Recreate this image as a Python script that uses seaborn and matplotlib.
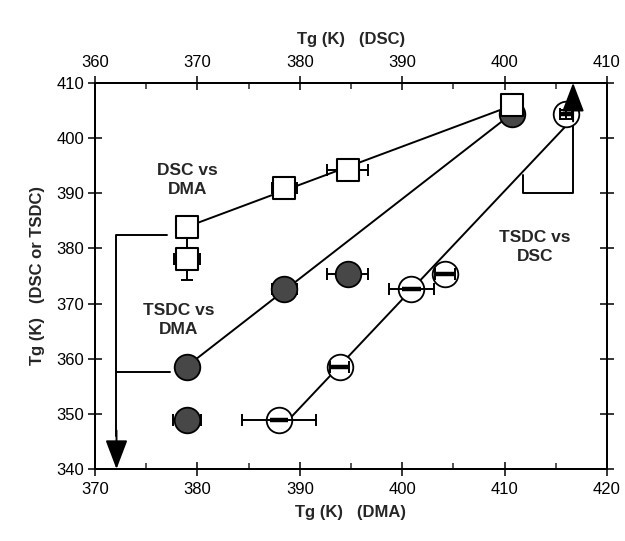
import numpy as np
import pandas as pd
import matplotlib
matplotlib.use("Agg")
import matplotlib.pyplot as plt
import seaborn as sns

# ---- data ----
sample = ["A", "B", "C", "D", "E"]
tg_dma = [379.0, 379.0, 388.5, 394.7, 410.7]
tg_dsc = [378.0, 383.9, 390.9, 394.2, 406.0]
tg_tsdc = [348.8, 358.5, 372.6, 375.3, 404.3]

# error bars
dsc_dma_xerr = [1.3, 0.0, 1.2, 2.0, 0.0]
dsc_dma_yerr_lo = [3.8, 0.0, 0.0, 0.0, 0.0]
dsc_dma_yerr_hi = [4.5, 0.0, 0.0, 0.0, 0.0]
tsdc_dma_xerr = [1.4, 0.0, 1.2, 2.0, 0.0]
tsdc_dsc_xerr = [3.6, 0.9, 2.2, 1.0, 0.6]
tsdc_dsc_yerr = [0.0, 0.0, 0.0, 0.0, 0.8]

# points used for the straight fit lines
fit_dsc_dma = [1, 2, 3, 4]
fit_tsdc_dma = [1, 2, 4]
fit_tsdc_dsc = [0, 1, 2, 3, 4]

x_ticks_dma = [370, 380, 390, 400, 410, 420]
x_ticks_dsc = [360, 370, 380, 390, 400, 410]
y_ticks = [340, 350, 360, 370, 380, 390, 400, 410]

df = pd.DataFrame({"sample": sample, "DMA": tg_dma, "DSC": tg_dsc, "TSDC": tg_tsdc})

sns.set_style("ticks")
plt.rcParams["font.family"] = ["Liberation Sans", "DejaVu Sans"]

fig = plt.figure(figsize=(6.25, 5.41), dpi=100)
ax = fig.add_axes([0.152, 0.133, 0.819, 0.714])
ax.set_xlim(370, 420)
ax.set_ylim(340, 410)
ax2 = ax.twiny()
ax2.set_xlim(360, 410)

lw = 1.4

def fit_line(axis, x, y, idx):
    xs = np.array(x)[idx]
    ys = np.array(y)[idx]
    k, b = np.polyfit(xs, ys, 1)
    xx = np.array([xs.min(), xs.max()])
    axis.plot(xx, k * xx + b, color="black", lw=lw, zorder=2)

fit_line(ax, tg_dma, tg_dsc, fit_dsc_dma)
fit_line(ax, tg_dma, tg_tsdc, fit_tsdc_dma)
fit_line(ax2, tg_dsc, tg_tsdc, fit_tsdc_dsc)

ekw = dict(fmt="none", ecolor="black", elinewidth=lw, capsize=4.5, capthick=lw)
ax.errorbar(df["DMA"], df["DSC"], xerr=dsc_dma_xerr,
            yerr=[dsc_dma_yerr_lo, dsc_dma_yerr_hi], zorder=1, **ekw)
ax.errorbar(df["DMA"], df["TSDC"], xerr=tsdc_dma_xerr, zorder=1, **ekw)

sns.scatterplot(data=df, x="DMA", y="TSDC", ax=ax, marker="o", s=340,
                color="#474747", edgecolor="black", linewidth=1.3, zorder=3)
sns.scatterplot(data=df, x="DMA", y="DSC", ax=ax, marker="s", s=230,
                color="white", edgecolor="black", linewidth=1.5, zorder=4)
sns.scatterplot(data=df, x="DSC", y="TSDC", ax=ax2, marker="o", s=340,
                color="white", edgecolor="black", linewidth=1.3, zorder=3)
ax2.errorbar(df["DSC"], df["TSDC"], xerr=tsdc_dsc_xerr, yerr=tsdc_dsc_yerr,
             zorder=4, **ekw)
# thicker central part of the TSDC-vs-DSC bars (inside the circles)
inner_xerr = np.minimum(np.array(tsdc_dsc_xerr), 0.9)
ax2.errorbar(df["DSC"], df["TSDC"], xerr=inner_xerr, fmt="none", ecolor="black",
             elinewidth=3.2, capsize=0, zorder=4)

# ---- bracket arrows (annotation guides) ----
ak = dict(arrowstyle="-|>,head_length=1.0,head_width=0.38", color="black",
          lw=lw, shrinkA=0, shrinkB=0, mutation_scale=18)
ax.plot([377.0, 372.1, 372.1], [382.4, 382.4, 346], color="black", lw=lw, zorder=2)
ax.plot([377.3, 372.1], [357.5, 357.5], color="black", lw=lw, zorder=2)
ax.annotate("", xy=(372.1, 340), xytext=(372.1, 347), arrowprops=ak, zorder=5)
ax2.plot([401.8, 401.8, 406.7, 406.7], [393.3, 390.0, 390.0, 404], color="black",
         lw=lw, zorder=2)
ax2.annotate("", xy=(406.7, 410), xytext=(406.7, 403), arrowprops=ak, zorder=5)

tfs = 12.5
ax.text(379.0, 392.4, "DSC vs\nDMA", ha="center", va="center", fontsize=tfs,
        fontweight="bold", linespacing=1.35)
ax.text(378.2, 367.0, "TSDC vs\nDMA", ha="center", va="center", fontsize=tfs,
        fontweight="bold", linespacing=1.35)
ax.text(413.0, 380.2, "TSDC vs\nDSC", ha="center", va="center", fontsize=tfs,
        fontweight="bold", linespacing=1.35)

# ---- axes styling ----
ax.set_xticks(x_ticks_dma)
ax.set_xticks(np.arange(375, 420, 10), minor=True)
ax2.set_xticks(x_ticks_dsc)
ax2.set_xticks(np.arange(365, 410, 10), minor=True)
ax.set_yticks(y_ticks)
ax.tick_params(axis="x", which="major", direction="inout", length=10, width=1.1,
               labelsize=12, pad=4)
ax.tick_params(axis="x", which="minor", direction="in", length=4, width=1.1)
ax2.tick_params(axis="x", which="major", direction="inout", length=10, width=1.1,
                labelsize=12, pad=4)
ax2.tick_params(axis="x", which="minor", direction="in", length=4, width=1.1)
ax.tick_params(axis="y", which="major", direction="inout", length=10, width=1.1,
               labelsize=12, pad=3, right=True)
for a in (ax, ax2):
    for s in a.spines.values():
        s.set_visible(True)
        s.set_linewidth(1.4)
        s.set_color("black")
    a.tick_params(colors="black")

ax.set_xlabel("Tg (K)   (DMA)", fontsize=12, fontweight="bold", labelpad=6)
ax2.set_xlabel("Tg (K)   (DSC)", fontsize=12, fontweight="bold", labelpad=8)
ax.set_ylabel("Tg (K)   (DSC or TSDC)", fontsize=12, fontweight="bold", labelpad=8)

fig.savefig("out.png", dpi=100)
